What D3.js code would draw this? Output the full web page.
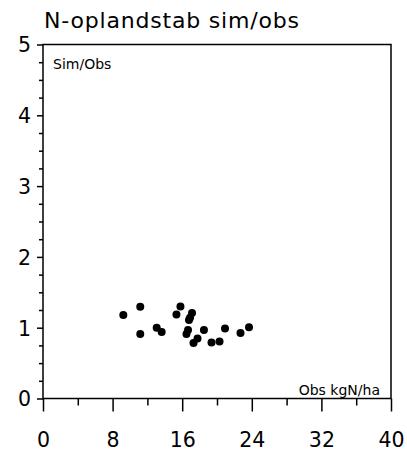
<!DOCTYPE html>
<html><head><meta charset="utf-8">
<script src="https://cdn.jsdelivr.net/npm/d3@7"></script>
<style>
html,body{margin:0;padding:0;background:#fff;}
svg{display:block;font-family:"DejaVu Sans",Verdana,sans-serif;}
</style></head>
<body>
<svg id="c" width="407" height="453"></svg>
<script>
const title = "N-oplandstab sim/obs";
const yLabel = "Sim/Obs";
const xLabel = "Obs kgN/ha";
const xTicks = [0, 8, 16, 24, 32, 40];
const yTicks = [0, 1, 2, 3, 4, 5];
const obsValues = [9.23, 11.18, 11.18, 13.07, 13.64, 15.34, 15.8, 17.13, 16.9, 16.78, 16.67, 16.49, 17.76, 17.3, 18.5, 19.37, 20.29, 20.92, 22.7, 23.68];
const ratioValues = [1.178, 1.295, 0.91, 0.999, 0.938, 1.185, 1.30, 1.206, 1.142, 1.107, 0.966, 0.91, 0.846, 0.783, 0.966, 0.79, 0.804, 0.987, 0.924, 1.008];

const svg = d3.select("#c");
const L = 43, R = 391, T = 44.5, B = 398.5;
const x = d3.scaleLinear().domain([0, 40]).range([L, R]);
const y = d3.scaleLinear().domain([0, 5]).range([B, T]);

// frame
svg.append("rect").attr("x", L).attr("y", T).attr("width", R - L).attr("height", B - T)
  .attr("fill", "none").attr("stroke", "#000").attr("stroke-width", 1.5);

// x axis
const xMinor = d3.range(0, 41, 4).filter(v => v % 8 !== 0);
svg.append("g").attr("transform", `translate(0,${B})`)
  .call(d3.axisBottom(x).tickValues(xMinor).tickSize(7).tickFormat(""))
  .call(g => g.select(".domain").remove())
  .call(g => g.selectAll("line").attr("stroke-width", 1.5));
svg.append("g").attr("transform", `translate(0,${B})`)
  .call(d3.axisBottom(x).tickValues(xTicks).tickSize(13).tickPadding(21).tickFormat(d3.format("d")))
  .call(g => g.select(".domain").remove())
  .call(g => g.selectAll("line").attr("stroke-width", 1.5))
  .call(g => g.selectAll("text").attr("font-size", 20.5).attr("font-family", "DejaVu Sans").attr("fill", "#000"));

// y axis
const yMinor = d3.range(0, 5.01, 0.25).filter(v => Math.abs(v - Math.round(v)) > 0.01);
svg.append("g").attr("transform", `translate(${L},0)`)
  .call(d3.axisLeft(y).tickValues(yMinor).tickSize(4).tickFormat(""))
  .call(g => g.select(".domain").remove())
  .call(g => g.selectAll("line").attr("stroke-width", 1.5));
svg.append("g").attr("transform", `translate(${L},0)`)
  .call(d3.axisLeft(y).tickValues(yTicks).tickSize(6).tickPadding(6).tickFormat(d3.format("d")))
  .call(g => g.select(".domain").remove())
  .call(g => g.selectAll("line").attr("stroke-width", 1.5))
  .call(g => g.selectAll("text").attr("font-size", 20.5).attr("font-family", "DejaVu Sans").attr("fill", "#000").attr("dy", "0.36em"));

// points
svg.append("g").selectAll("circle").data(obsValues.map((v, i) => [v, ratioValues[i]]))
  .join("circle").attr("cx", d => x(d[0])).attr("cy", d => y(d[1])).attr("r", 4).attr("fill", "#000");

// labels
svg.append("text").attr("x", 44).attr("y", 28).attr("font-size", 22)
  .attr("textLength", 255).attr("lengthAdjust", "spacing").attr("fill", "#000").text(title);
svg.append("text").attr("x", 53).attr("y", 68.5).attr("font-size", 14).attr("fill", "#000").text(yLabel);
svg.append("text").attr("x", 380).attr("y", 395).attr("text-anchor", "end").attr("font-size", 14).attr("fill", "#000").text(xLabel);
</script>
</body></html>
